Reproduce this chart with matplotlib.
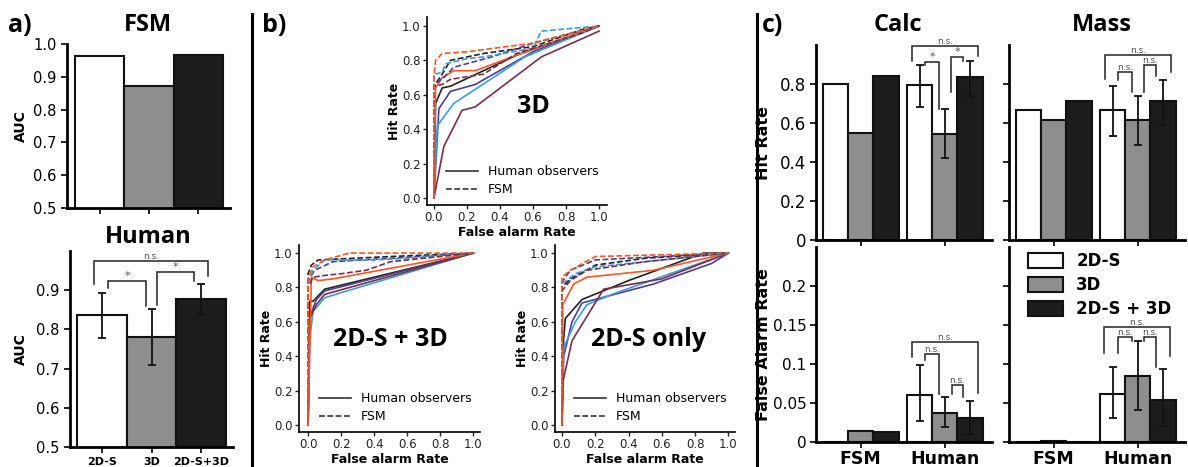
import numpy as np
import matplotlib
matplotlib.use("Agg")
import matplotlib.pyplot as plt
from matplotlib.lines import Line2D
from matplotlib.patches import Patch

# ---- data ----
conds = ["2D-S", "3D", "2D-S+3D"]
groups = ["FSM", "Human"]

auc_fsm = [0.962, 0.873, 0.966]
auc_human = [0.836, 0.780, 0.877]
auc_human_lo = [0.778, 0.708, 0.838]
auc_human_hi = [0.893, 0.852, 0.917]

calc_hit_fsm = [0.800, 0.551, 0.843]
calc_hit_hum = [0.795, 0.545, 0.838]
calc_hit_lo = [0.680, 0.418, 0.740]
calc_hit_hi = [0.895, 0.671, 0.920]

mass_hit_fsm = [0.666, 0.614, 0.712]
mass_hit_hum = [0.666, 0.614, 0.712]
mass_hit_lo = [0.534, 0.487, 0.589]
mass_hit_hi = [0.788, 0.740, 0.823]

calc_fa_fsm = [0.0, 0.0145, 0.0132]
calc_fa_hum = [0.0606, 0.0375, 0.0307]
calc_fa_lo = [0.0264, 0.019, 0.0107]
calc_fa_hi = [0.099, 0.058, 0.053]

mass_fa_fsm = [0.0, 0.0007, 0.0]
mass_fa_hum = [0.061, 0.084, 0.054]
mass_fa_lo = [0.031, 0.0415, 0.021]
mass_fa_hi = [0.096, 0.129, 0.093]

# observer colours: black, purple, blue, maroon, orange
obs_colors = ["#222222", "#4b3f8e", "#3d9be0", "#7a2e45", "#f05a28"]

roc3d_human = [
    ([0, 0.01, 0.05, 0.10, 0.50, 1.0], [0, 0.55, 0.64, 0.65, 0.83, 1.0]),
    ([0, 0.03, 0.10, 0.25, 0.60, 1.0], [0, 0.52, 0.62, 0.66, 0.85, 1.0]),
    ([0, 0.02, 0.12, 0.55, 1.0], [0, 0.42, 0.55, 0.82, 1.0]),
    ([0, 0.02, 0.06, 0.17, 0.25, 0.65, 1.0], [0, 0.10, 0.30, 0.51, 0.53, 0.82, 0.97]),
    ([0, 0.01, 0.05, 0.12, 0.25, 0.50, 1.0], [0, 0.64, 0.70, 0.74, 0.74, 0.83, 1.0]),
]
roc3d_fsm = [
    ([0, 0, 0.05, 0.10, 0.30, 0.60, 0.90, 1.0], [0, 0.65, 0.72, 0.80, 0.84, 0.88, 0.98, 1.0]),
    ([0, 0, 0.06, 0.12, 0.35, 0.60, 1.0], [0, 0.66, 0.70, 0.76, 0.82, 0.90, 1.0]),
    ([0, 0, 0.05, 0.07, 0.20, 0.30, 0.60, 0.65, 1.0], [0, 0.72, 0.73, 0.78, 0.81, 0.82, 0.87, 0.97, 1.0]),
    ([0, 0, 0.05, 0.10, 0.30, 0.50, 0.90, 1.0], [0, 0.65, 0.66, 0.69, 0.72, 0.84, 0.96, 1.0]),
    ([0, 0, 0.01, 0.05, 0.20, 0.60, 1.0], [0, 0.70, 0.80, 0.84, 0.85, 0.90, 1.0]),
]

roc_both_human = [
    ([0, 0.01, 0.03, 0.10, 1.0], [0, 0.72, 0.72, 0.79, 1.0]),
    ([0, 0.01, 0.05, 0.10, 1.0], [0, 0.63, 0.73, 0.78, 1.0]),
    ([0, 0.01, 0.03, 0.10, 0.20, 1.0], [0, 0.50, 0.66, 0.74, 0.77, 1.0]),
    ([0, 0.01, 0.05, 0.10, 1.0], [0, 0.62, 0.70, 0.76, 1.0]),
    ([0, 0.02, 0.06, 0.15, 1.0], [0, 0.86, 0.84, 0.85, 1.0]),
]
roc_both_fsm = [
    ([0, 0, 0.02, 0.06, 0.50, 1.0], [0, 0.88, 0.93, 0.96, 0.98, 1.0]),
    ([0, 0, 0.04, 0.15, 0.50, 1.0], [0, 0.84, 0.90, 0.95, 0.97, 1.0]),
    ([0, 0, 0.03, 0.10, 0.40, 0.60, 1.0], [0, 0.82, 0.90, 0.96, 0.96, 0.97, 1.0]),
    ([0, 0, 0.03, 0.10, 0.20, 0.35, 0.50, 1.0], [0, 0.80, 0.86, 0.87, 0.88, 0.90, 0.95, 1.0]),
    ([0, 0, 0.03, 0.10, 0.25, 1.0], [0, 0.85, 0.92, 0.96, 1.0, 1.0]),
]

roc_2d_human = [
    ([0, 0.01, 0.02, 0.12, 0.40, 0.85, 1.0], [0, 0.50, 0.62, 0.73, 0.84, 1.0, 1.0]),
    ([0, 0.01, 0.06, 0.12, 0.55, 0.90, 1.0], [0, 0.40, 0.60, 0.71, 0.82, 0.94, 1.0]),
    ([0, 0.01, 0.08, 0.15, 0.30, 1.0], [0, 0.45, 0.60, 0.70, 0.76, 1.0]),
    ([0, 0.005, 0.06, 0.25, 0.60, 1.0], [0, 0.25, 0.49, 0.79, 0.85, 1.0]),
    ([0, 0.005, 0.07, 0.15, 0.55, 1.0], [0, 0.70, 0.82, 0.86, 0.90, 1.0]),
]
roc_2d_fsm = [
    ([0, 0, 0.05, 0.20, 0.50, 1.0], [0, 0.80, 0.85, 0.93, 0.97, 1.0]),
    ([0, 0, 0.05, 0.20, 1.0], [0, 0.83, 0.90, 0.96, 1.0]),
    ([0, 0, 0.08, 0.20, 0.60, 1.0], [0, 0.82, 0.88, 0.92, 0.96, 1.0]),
    ([0, 0, 0.05, 0.15, 0.50, 1.0], [0, 0.78, 0.84, 0.90, 0.95, 1.0]),
    ([0, 0, 0.05, 0.20, 1.0], [0, 0.86, 0.90, 0.98, 1.0]),
]

bar_colors = ["white", "#8e8e8e", "#1c1c1c"]

W, H = 1188, 467
fig = plt.figure(figsize=(W / 100, H / 100), dpi=100)
TITLE_FONT = "Open Sans"


def px_axes(l, t, r, b):
    return fig.add_axes([l / W, 1 - b / H, (r - l) / W, (b - t) / H])


def style(ax, lw=2.0, fs=10.5):
    for s in ["top", "right"]:
        ax.spines[s].set_visible(False)
    for s in ["left", "bottom"]:
        ax.spines[s].set_linewidth(lw)
    ax.tick_params(width=1.2, length=4, labelsize=fs)


def bracket(ax, x1, x2, top, y1, y2, txt, fs=6.5):
    ax.plot([x1, x1, x2, x2], [y1, top, top, y2], color="#222222", lw=1.1,
            solid_joinstyle="miter", clip_on=False)
    ax.text((x1 + x2) / 2, top, txt, ha="center", va="bottom",
            fontsize=fs, color="#555555")


def errbar(ax, x, v, lo, hi):
    v = np.array(v)
    ax.errorbar(x, v, yerr=[v - np.array(lo), np.array(hi) - v], fmt="none",
                ecolor="#111111", elinewidth=1.3, capsize=3, capthick=1.3)


# ---- panel a ----
xa = np.arange(3)
ax = px_axes(67, 44, 230, 208)
ax.bar(xa, auc_fsm, width=1.0, color=bar_colors, edgecolor="#111111", lw=1.5)
ax.set_ylim(0.5, 1.0)
ax.set_xlim(-0.67, 2.65)
ax.set_yticks([0.5, 0.6, 0.7, 0.8, 0.9, 1.0])
ax.set_xticks(xa)
ax.set_xticklabels([])
ax.set_ylabel("AUC", fontsize=10, fontweight="bold")
ax.yaxis.set_label_coords(-0.24, 0.5)
style(ax)
fig.text(148 / W, 1 - 25 / H, "FSM", ha="center", va="center",
         fontsize=17, fontweight="bold", family=TITLE_FONT)

ax = px_axes(70, 251, 233, 447)
ax.bar(xa, auc_human, width=1.0, color=bar_colors, edgecolor="#111111", lw=1.5)
errbar(ax, xa, auc_human, auc_human_lo, auc_human_hi)
ax.set_ylim(0.5, 1.0)
ax.set_xlim(-0.65, 2.65)
ax.set_yticks([0.5, 0.6, 0.7, 0.8, 0.9])
ax.set_xticks(xa)
ax.set_xticklabels(conds, fontsize=8, fontweight="bold")
ax.set_ylabel("AUC", fontsize=10, fontweight="bold")
ax.yaxis.set_label_coords(-0.26, 0.5)
style(ax)
ax.tick_params(axis="x", labelsize=8)
bracket(ax, -0.16, 2.14, 0.974, 0.915, 0.936, "n.s.")
bracket(ax, 0.12, 0.89, 0.923, 0.905, 0.86, "*", 8)
bracket(ax, 1.11, 1.86, 0.946, 0.862, 0.923, "*", 8)
fig.text(148 / W, 1 - 237 / H, "Human", ha="center", va="center",
         fontsize=17, fontweight="bold", family=TITLE_FONT)


# ---- panel b ----
def roc_panel(box, xlim, ylim, human, fsm, label, lpos):
    ax = px_axes(*box)
    for (fx, ty), c in zip(human, obs_colors):
        ax.plot(fx, ty, color=c, lw=1.2)
    for (fx, ty), c in zip(fsm, obs_colors):
        ax.plot(fx, ty, color=c, lw=1.2, ls=(0, (3.5, 1.5)))
    ax.set_xlim(*xlim)
    ax.set_ylim(*ylim)
    ax.set_xticks(np.arange(0, 1.01, 0.2))
    ax.set_yticks(np.arange(0, 1.01, 0.2))
    ax.set_xticklabels(["%.1f" % v for v in np.arange(0, 1.01, 0.2)])
    ax.set_yticklabels(["%.1f" % v for v in np.arange(0, 1.01, 0.2)])
    style(ax, lw=1.2)
    ax.tick_params(width=1, length=3, labelsize=8.5, pad=1.5, colors="#222222")
    ax.set_xlabel("False alarm Rate", fontsize=9, fontweight="bold", labelpad=1)
    ax.set_ylabel("Hit Rate", fontsize=9, fontweight="bold", labelpad=1)
    ax.text(lpos[0], lpos[1], label, ha="center", va="center", fontsize=18,
            fontweight="bold", family=TITLE_FONT)
    hl = [Line2D([], [], color="#333333", lw=1.2),
          Line2D([], [], color="#333333", lw=1.2, ls=(0, (3.5, 1.5)))]
    ax.legend(hl, ["Human observers", "FSM"], loc="lower right", frameon=False,
              fontsize=9, handlelength=2.5, borderaxespad=0.3, labelspacing=0.4)
    return ax


roc_panel((427, 17, 607, 205), (-0.042, 1.048), (-0.04, 1.052),
          roc3d_human, roc3d_fsm, "3D", (0.6, 0.53))
roc_panel((299, 245, 480, 432), (-0.055, 1.04), (-0.04, 1.047),
          roc_both_human, roc_both_fsm, "2D-S + 3D", (0.5, 0.5))
roc_panel((555, 245, 735, 432), (-0.042, 1.04), (-0.04, 1.047),
          roc_2d_human, roc_2d_fsm, "2D-S only", (0.52, 0.5))

# ---- panel c ----
xg = np.arange(2)
bw = 0.3
offs = np.array([-bw, 0, bw])


def group_bars(box, fsm, hum, lo, hi, ylim, yticks, ylabels, ylab, xlab, yfs=12):
    ax = px_axes(*box)
    for i in range(3):
        ax.bar([xg[0] + offs[i], xg[1] + offs[i]], [fsm[i], hum[i]], width=bw,
               color=bar_colors[i], edgecolor="#111111", lw=1.5)
    errbar(ax, xg[1] + offs, hum, lo, hi)
    ax.set_xlim(-0.53, 1.56)
    ax.set_ylim(*ylim)
    ax.set_yticks(yticks)
    ax.set_yticklabels(ylabels)
    ax.set_xticks(xg)
    if xlab:
        ax.set_xticklabels(groups, fontsize=12.5, fontweight="bold")
    else:
        ax.set_xticklabels([])
    style(ax)
    ax.tick_params(axis="y", labelsize=yfs, pad=3)
    ax.tick_params(axis="x", labelsize=12.5, pad=2)
    if ylab:
        ax.set_ylabel(ylab, fontsize=11.5, fontweight="bold")
        ax.yaxis.set_label_coords(-0.255, 0.5)
    return ax


hit_ticks = [0, 0.2, 0.4, 0.6, 0.8]
hit_labels = ["0", "0.2", "0.4", "0.6", "0.8"]
fa_ticks = [0, 0.05, 0.1, 0.15, 0.2]
fa_labels = ["0", "0.05", "0.1", "0.15", "0.2"]

ax = group_bars((816, 45, 992, 240), calc_hit_fsm, calc_hit_hum, calc_hit_lo,
                calc_hit_hi, (0, 1.0), hit_ticks, hit_labels, "Hit Rate", False)
fig.text(898 / W, 1 - 25 / H, "Calc", ha="center", va="center",
         fontsize=17, fontweight="bold", family=TITLE_FONT)
bracket(ax, 0.61, 1.39, 0.996, 0.92, 0.945, "n.s.")
bracket(ax, 0.77, 0.93, 0.913, 0.895, 0.67, "*", 8)
bracket(ax, 1.07, 1.22, 0.938, 0.757, 0.92, "*", 8)

ax = group_bars((1009, 45, 1185, 240), mass_hit_fsm, mass_hit_hum, mass_hit_lo,
                mass_hit_hi, (0, 1.0), hit_ticks, [], None, False)
fig.text(1102 / W, 1 - 25 / H, "Mass", ha="center", va="center",
         fontsize=17, fontweight="bold", family=TITLE_FONT)
bracket(ax, 0.61, 1.39, 0.947, 0.826, 0.86, "n.s.")
bracket(ax, 0.77, 0.93, 0.864, 0.818, 0.76, "n.s.")
bracket(ax, 1.07, 1.22, 0.895, 0.76, 0.843, "n.s.")

ax = group_bars((816, 247, 992, 442), calc_fa_fsm, calc_fa_hum, calc_fa_lo,
                calc_fa_hi, (0, 0.25), fa_ticks, fa_labels, "False Alarm Rate",
                True, yfs=11)
bracket(ax, 0.61, 1.39, 0.128, 0.109, 0.063, "n.s.")
bracket(ax, 0.77, 0.93, 0.113, 0.105, 0.062, "n.s.")
bracket(ax, 1.08, 1.22, 0.0725, 0.062, 0.058, "n.s.")

ax = group_bars((1009, 247, 1185, 442), mass_fa_fsm, mass_fa_hum, mass_fa_lo,
                mass_fa_hi, (0, 0.25), fa_ticks, [], None, True)
bracket(ax, 0.60, 1.38, 0.148, 0.114, 0.11, "n.s.")
bracket(ax, 0.77, 0.93, 0.135, 0.114, 0.129, "n.s.")
bracket(ax, 1.07, 1.22, 0.135, 0.129, 0.096, "n.s.")
handles = [Patch(facecolor=c, edgecolor="#111111", lw=1.5) for c in bar_colors]
ax.legend(handles, ["2D-S", "3D", "2D-S + 3D"], loc="upper left",
          bbox_to_anchor=(0.05, 1.025), frameon=False,
          prop={"weight": "bold", "size": 12},
          handlelength=2.1, handleheight=1.0, labelspacing=0.35,
          borderaxespad=0.2, handletextpad=0.8)

# ---- separators and panel labels ----
for xs in [252, 757]:
    fig.add_artist(Line2D([xs / W, xs / W], [0, 1 - 14 / H], color="black", lw=2.2))
for xl, lab in [(8, "a)"), (262, "b)"), (762, "c)")]:
    fig.text(xl / W, 1 - 26 / H, lab, ha="left", va="center", fontsize=18,
             fontweight="bold", family=TITLE_FONT)

fig.savefig("out.png", dpi=100)
